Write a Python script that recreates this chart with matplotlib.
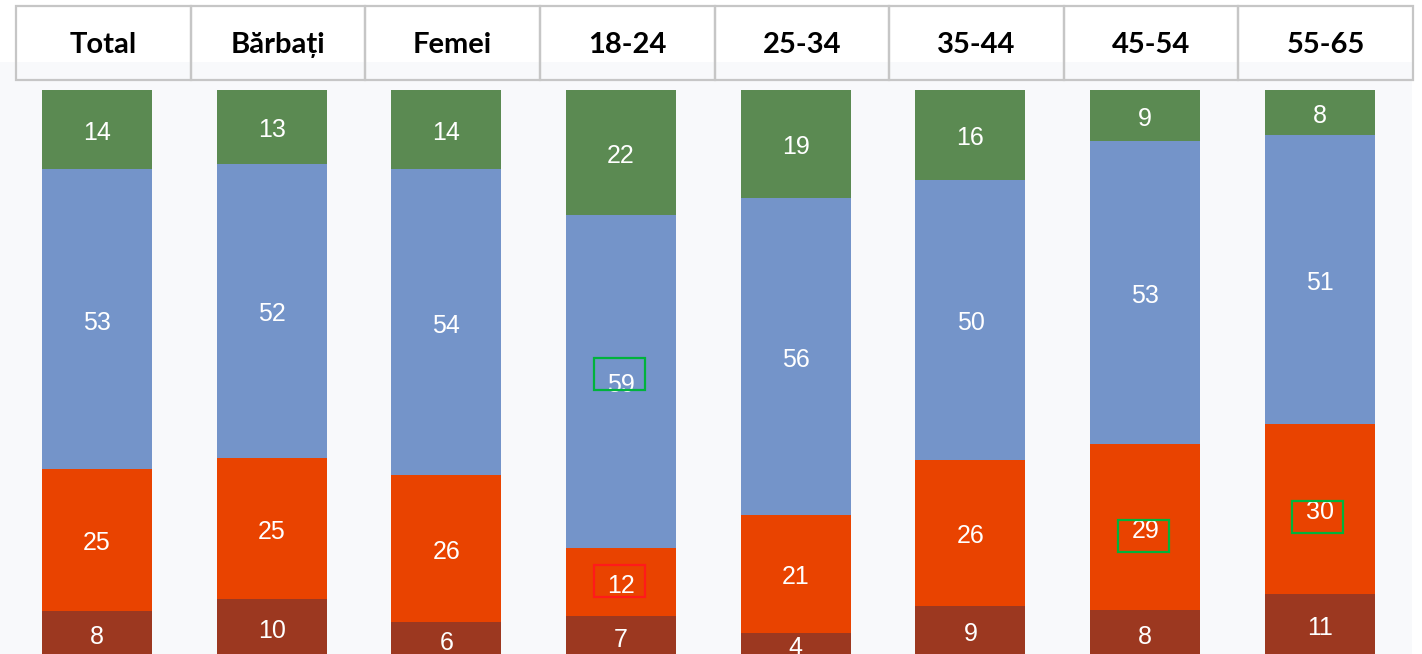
import matplotlib
matplotlib.use("Agg")
import matplotlib.pyplot as plt
from matplotlib.patches import Rectangle
import numpy as np

categories = ["Total", "Bărbați", "Femei", "18-24", "25-34", "35-44", "45-54", "55-65"]
# bottom -> top
seg_brown = [8, 10, 6, 7, 4, 9, 8, 11]
seg_orange = [25, 25, 26, 12, 21, 26, 29, 30]
seg_blue = [53, 52, 54, 59, 56, 50, 53, 51]
seg_green = [14, 13, 14, 22, 19, 16, 9, 8]

# highlight boxes drawn around some labels: (category index, segment index, colour, dy offset)
highlights = [(3, 2, "#00B33C", 1.4), (3, 1, "#FF1A1A", 0.2),
              (6, 1, "#00B33C", -1.6), (7, 1, "#00B33C", -1.4)]

colors = ["#9C3820", "#E94300", "#7494C9", "#5B8A52"]

W, H = 1422, 654
fig = plt.figure(figsize=(W / 100, H / 100), dpi=100)
fig.patch.set_facecolor("white")

# background panel (pixel coordinates)
bg = fig.add_axes([0, 0, 1, 1])
bg.set_xlim(0, W)
bg.set_ylim(H, 0)
bg.axis("off")
bg.add_patch(Rectangle((0, 62), 1412, H - 62, facecolor="#F8F9FB", edgecolor="none", zorder=0))

# bar axes
ax = fig.add_axes([0, 0, 1, 1])
ax.patch.set_alpha(0)
px_per_cat = 174.7
x0_px = 97.0
px_per_unit = 5.66
bottom_px = 656.0
ax.set_xlim(-x0_px / px_per_cat, (W - x0_px) / px_per_cat)
ax.set_ylim((bottom_px - H) / px_per_unit, bottom_px / px_per_unit)
ax.axis("off")

data = np.array([seg_brown, seg_orange, seg_blue, seg_green], dtype=float)
totals = data.sum(axis=0)
norm = data / totals * 100.0
x = np.arange(len(categories))
bw = 110 / px_per_cat
bottoms = np.zeros(len(categories))
centers = np.zeros_like(norm)
label_dy = -3.5 / px_per_unit
for s in range(4):
    ax.bar(x, norm[s], bottom=bottoms, width=bw, color=colors[s], edgecolor="none", zorder=2)
    centers[s] = bottoms + norm[s] / 2
    for i in range(len(categories)):
        ax.text(x[i], centers[s][i] + label_dy, f"{int(data[s][i])}", ha="center", va="center",
                color="white", fontsize=18, family="Liberation Sans", zorder=3)
    bottoms += norm[s]

bw_box = 51 / px_per_cat
bh_box = 32 / px_per_unit
for ci, si, col, dy in highlights:
    cx = x[ci] - 2 / px_per_cat
    cy = centers[si][ci] + dy
    ax.add_patch(Rectangle((cx - bw_box / 2, cy - bh_box / 2), bw_box, bh_box,
                           facecolor="none", edgecolor=col, linewidth=1.6, zorder=4))

# header table
left, right, top, bot = 16, 1413, 6, 80
cw = (right - left) / len(categories)
bg.add_patch(Rectangle((left, top), right - left, 56, facecolor="white", edgecolor="none", zorder=1))
hdr = fig.add_axes([0, 0, 1, 1])
hdr.patch.set_alpha(0)
hdr.set_xlim(0, W)
hdr.set_ylim(H, 0)
hdr.axis("off")
for i, c in enumerate(categories):
    hdr.add_patch(Rectangle((left + i * cw, top), cw, bot - top, facecolor="none",
                            edgecolor="#C6C6C6", linewidth=1.6, zorder=5))
    hdr.text(left + (i + 0.5) * cw, 45, c, ha="center", va="center", fontsize=21,
             fontweight="bold", family="Lato", color="black", zorder=6)

fig.savefig("out.png", dpi=100, facecolor=fig.get_facecolor())
